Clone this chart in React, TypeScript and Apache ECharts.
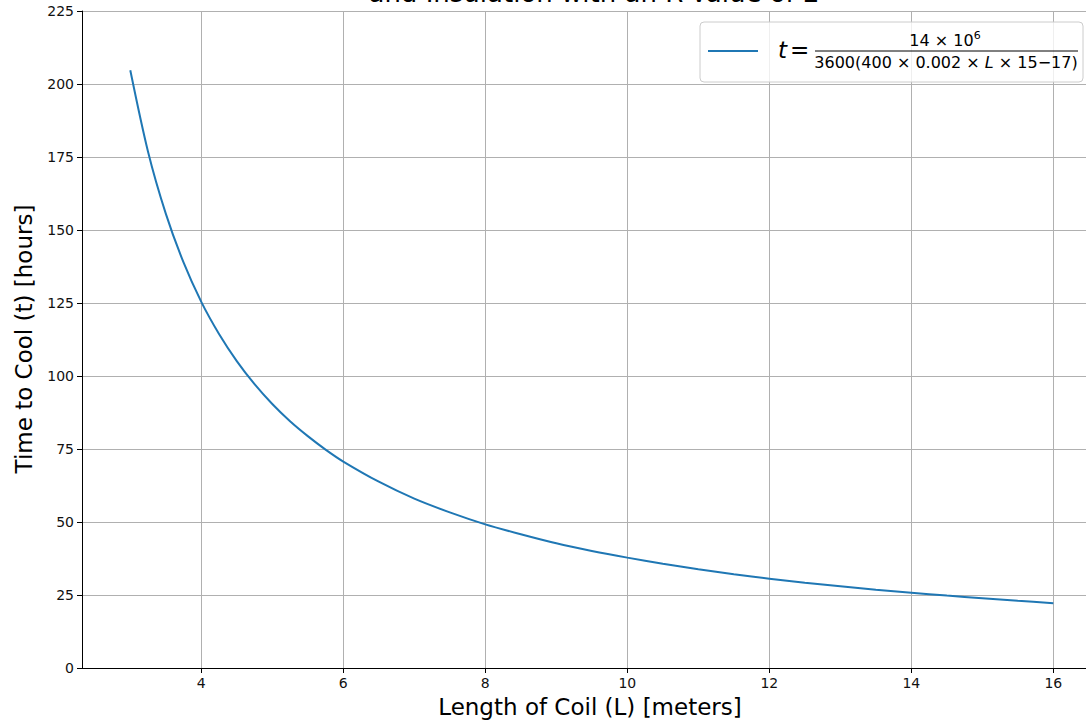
import React, { useEffect, useRef } from "react";
import * as echarts from "echarts";

const lengths = [3, 3.25, 3.5, 3.75, 4, 4.25, 4.5, 4.75, 5, 5.25, 5.5, 5.75, 6, 6.5, 7, 7.5, 8, 8.5, 9, 9.5, 10, 10.5, 11, 11.5, 12, 12.5, 13, 13.5, 14, 14.5, 15, 15.5, 16];
const hours = [204.7, 176.8, 155.6, 138.9, 125.4, 114.4, 105.1, 97.2, 90.4, 84.5, 79.4, 74.8, 70.7, 63.8, 58.0, 53.3, 49.2, 45.8, 42.7, 40.1, 37.8, 35.7, 33.8, 32.1, 30.6, 29.2, 28.0, 26.8, 25.8, 24.8, 23.9, 23.0, 22.2];
const xTicks = [4, 6, 8, 10, 12, 14, 16];
const titleText = "and Insulation with an R-Value of 2";
const xLabel = "Length of Coil (L) [meters]";
const yLabel = "Time to Cool (t) [hours]";

const FONT = "DejaVu Sans";

export default function App() {
  const ref = useRef<HTMLDivElement>(null);
  useEffect(() => {
    if (!ref.current) return;
    const chart = echarts.init(ref.current, null, { renderer: "svg" });
    chart.setOption({
      animation: false,
      backgroundColor: "#ffffff",
      textStyle: { fontFamily: FONT },
      grid: { left: 82, right: 0, top: 11, bottom: 52, containLabel: false },
      xAxis: {
        type: "value",
        min: 2.32,
        max: 16.46,
        axisLine: { show: true, onZero: false, lineStyle: { color: "#000", width: 1 } },
        axisTick: { show: true, length: 5, lineStyle: { color: "#000" }, customValues: xTicks },
        axisLabel: { color: "#111", fontSize: 14, fontFamily: FONT, margin: 8, customValues: xTicks },
        splitLine: { show: true, lineStyle: { color: "#b0b0b0", width: 1 } },
      },
      yAxis: {
        type: "value",
        min: 0,
        max: 225,
        interval: 25,
        axisLine: { show: true, lineStyle: { color: "#000", width: 1 } },
        axisTick: { show: true, length: 5, lineStyle: { color: "#000" } },
        axisLabel: { color: "#111", fontSize: 14, fontFamily: FONT, margin: 8 },
        splitLine: { show: true, lineStyle: { color: "#b0b0b0", width: 1 } },
      },
      series: [
        {
          type: "line",
          data: lengths.map((l, i) => [l, hours[i]]),
          showSymbol: false,
          smooth: 0.3,
          lineStyle: { color: "#1f77b4", width: 2 },
          itemStyle: { color: "#1f77b4" },
        },
      ],
      graphic: [
        {
          type: "text",
          style: {
            text: titleText,
            x: 594,
            y: 6,
            fontSize: 26,
            fontFamily: FONT,
            fill: "#000",
            align: "center",
            verticalAlign: "bottom",
          },
        },
        {
          type: "text",
          style: {
            text: xLabel,
            x: 590,
            y: 707,
            fontSize: 23,
            fontFamily: FONT,
            fill: "#000",
            align: "center",
            verticalAlign: "middle",
          },
        },
        {
          type: "text",
          x: 24,
          y: 339,
          rotation: Math.PI / 2,
          style: {
            text: yLabel,
            x: 0,
            y: 0,
            fontSize: 23,
            fontFamily: FONT,
            fill: "#000",
            align: "center",
            verticalAlign: "middle",
          },
        },
        {
          type: "rect",
          shape: { x: 700, y: 22, width: 383, height: 60, r: 4 },
          style: { fill: "rgba(255,255,255,0.8)", stroke: "#cccccc", lineWidth: 1 },
          z: 10,
        },
        {
          type: "line",
          shape: { x1: 708, y1: 51, x2: 758, y2: 51 },
          style: { stroke: "#1f77b4", lineWidth: 2 },
          z: 11,
        },
        {
          type: "text",
          style: {
            text: "t",
            x: 778,
            y: 50,
            fontSize: 23,
            fontStyle: "italic",
            fontFamily: FONT,
            fill: "#000",
            align: "left",
            verticalAlign: "middle",
          },
          z: 11,
        },
        {
          type: "text",
          style: {
            text: "=",
            x: 790,
            y: 50,
            fontSize: 23,
            fontFamily: FONT,
            fill: "#000",
            align: "left",
            verticalAlign: "middle",
          },
          z: 11,
        },
        {
          type: "text",
          style: {
            text: "14 × 10{s|6}",
            rich: { s: { fontSize: 11, verticalAlign: "top", padding: [0, 0, 9, 0], fontFamily: FONT } },
            x: 945,
            y: 40,
            fontSize: 16,
            fontFamily: FONT,
            fill: "#000",
            align: "center",
            verticalAlign: "middle",
          },
          z: 11,
        },
        {
          type: "line",
          shape: { x1: 815, y1: 51, x2: 1078, y2: 51 },
          style: { stroke: "#000", lineWidth: 1 },
          z: 11,
        },
        {
          type: "text",
          style: {
            text: "3600(400 × 0.002 × {i|L} × 15−17)",
            rich: { i: { fontStyle: "italic", fontSize: 16, fontFamily: FONT } },
            x: 946,
            y: 62,
            fontSize: 16,
            fontFamily: FONT,
            fill: "#000",
            align: "center",
            verticalAlign: "middle",
          },
          z: 11,
        },
      ],
    });
    return () => chart.dispose();
  }, []);
  return (
    <div
      ref={ref}
      style={{ position: "fixed", left: 0, top: 0, width: 1086, height: 720, background: "#fff" }}
    />
  );
}
